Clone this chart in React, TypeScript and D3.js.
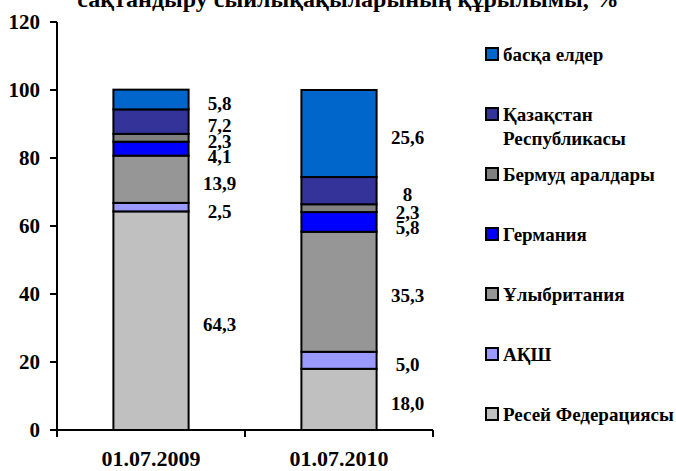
import React from 'react';
import * as d3 from 'd3';

const categories = ['01.07.2009', '01.07.2010'];

// series, bottom of the stack first
const seriesNames = [
  'Ресей Федерациясы',
  'АҚШ',
  'Ұлыбритания',
  'Германия',
  'Бермуд аралдары',
  'Қазақстан Республикасы',
  'басқа елдер',
];
const seriesColors = ['#C0C0C0', '#9999FF', '#969696', '#0000FF', '#808080', '#333399', '#0066CC'];

const values2009 = [64.3, 2.5, 13.9, 4.1, 2.3, 7.2, 5.8];
const values2010 = [18.0, 5.0, 35.3, 5.8, 2.3, 8, 25.6];
const labels2009 = ['64,3', '2,5', '13,9', '4,1', '2,3', '7,2', '5,8'];
const labels2010 = ['18,0', '5,0', '35,3', '5,8', '2,3', '8', '25,6'];

const yTicks = [0, 20, 40, 60, 80, 100, 120];
const titleText = 'сақтандыру сыйлықақыларының құрылымы, %';

const FONT = 'Liberation Serif';

const left = 57, right = 433, top = 22, bottom = 430;

function StackChart({ width, height }) {
  const y = d3.scaleLinear().domain([0, 120]).range([bottom, top]);
  const x = d3.scaleBand().domain(categories).range([left, right])
    .paddingInner(0.6).paddingOuter(0.3);

  const rows = categories.map((c, i) => {
    const vals = i === 0 ? values2009 : values2010;
    const row: any = { cat: c };
    seriesNames.forEach((s, j) => { row[s] = vals[j]; });
    return row;
  });
  const stack = d3.stack().keys(seriesNames)(rows);

  // label positions: middle of each segment, pushed apart when too close
  const labelPos = categories.map((c, ci) => {
    const pos = stack.map(layer => y((layer[ci][0] + layer[ci][1]) / 2) + 4);
    for (let k = pos.length - 2; k >= 0; k--) {
      if (pos[k] - pos[k + 1] < 15) pos[k] = pos[k + 1] + 15;
    }
    return pos;
  });

  const bounds = [left, ...categories.map(c => x(c) - x.step() * x.paddingInner() / 2 + x.step())];
  const legendItems = seriesNames.map((s, i) => ({ name: s, color: seriesColors[i] })).reverse();

  return (
    <svg width={width} height={height} fontFamily={FONT} fontWeight="bold"
      style={{ position: 'absolute', left: 0, top: 0, background: '#fff' }}>
      <text x={348} y={7} textAnchor="middle" fontSize={24} fontFamily={FONT}>{titleText}</text>

      {stack.map((layer, i) => (
        <g key={layer.key} fill={seriesColors[i]}>
          {layer.map(d => (
            <rect key={d.data.cat} x={x(d.data.cat)} y={y(d[1])}
              width={x.bandwidth()} height={y(d[0]) - y(d[1])}
              stroke="#000" strokeWidth={2} />
          ))}
        </g>
      ))}

      {categories.map((c, ci) => (
        <g key={c}>
          {(ci === 0 ? labels2009 : labels2010).map((lab, k) => (
            <text key={k} x={x(c) + x.bandwidth() + 31} y={labelPos[ci][k]} dy="0.35em"
              textAnchor="middle" fontSize={19} fontFamily={FONT}>{lab}</text>
          ))}
        </g>
      ))}

      <g>
        <line x1={left} x2={left} y1={y(120)} y2={y(0) + 7} stroke="#000" strokeWidth={2} />
        {yTicks.map(t => (
          <g key={t}>
            <line x1={left - 7} x2={left} y1={y(t)} y2={y(t)} stroke="#000" strokeWidth={2} />
            <text x={40} y={y(t)} dy="0.35em" textAnchor="end" fontSize={21} fontFamily={FONT}>{t}</text>
          </g>
        ))}
      </g>

      <g>
        <line x1={left - 7} x2={right} y1={y(0)} y2={y(0)} stroke="#000" strokeWidth={2} />
        {bounds.map(b => (
          <line key={b} x1={b} x2={b} y1={y(0)} y2={y(0) + 7} stroke="#000" strokeWidth={2} />
        ))}
        {categories.map(c => (
          <text key={c} x={x(c) + x.bandwidth() / 2} y={466} textAnchor="middle" fontSize={22}
            fontFamily={FONT}>{c}</text>
        ))}
      </g>

      {legendItems.map((d, i) => {
        const parts = d.name === 'Қазақстан Республикасы' ? d.name.split(' ') : [d.name];
        return (
          <g key={d.name} transform={`translate(486, ${54 + i * 60})`}>
            <rect x={0} y={-6} width={12} height={12} fill={d.color} stroke="#000" strokeWidth={2} />
            <text x={17} y={0} fontSize={19} fontFamily={FONT}>
              {parts.map((p, k) => (
                <tspan key={k} x={17} dy={k === 0 ? '0.35em' : '24px'}>{p}</tspan>
              ))}
            </text>
          </g>
        );
      })}
    </svg>
  );
}

export default function App() {
  return <StackChart width={676} height={471} />;
}
